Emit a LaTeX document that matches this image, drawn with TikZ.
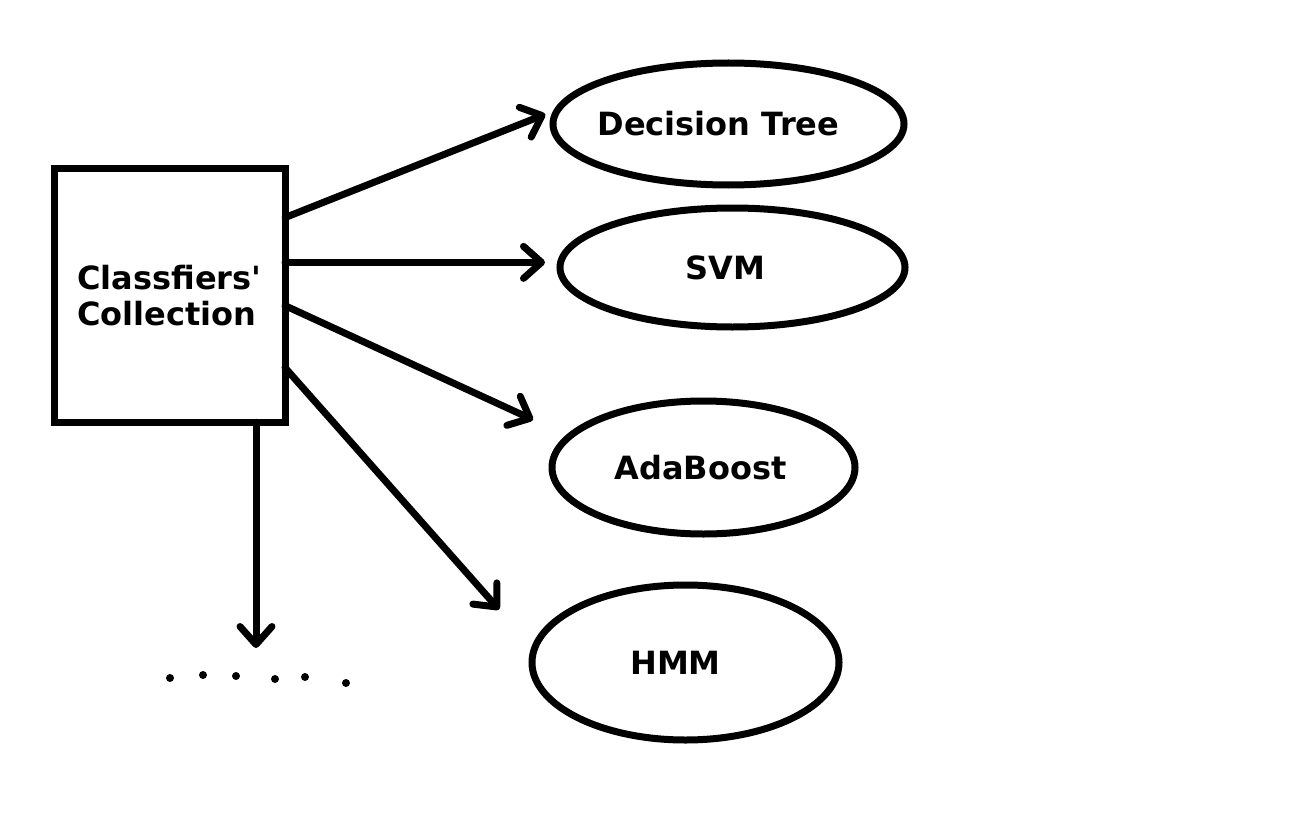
\documentclass[tikz,border=0pt]{standalone}
\usepackage{fontspec}
\setmainfont{DejaVu Sans}
\usetikzlibrary{positioning,shapes.geometric,arrows.meta}

\begin{document}
\begin{tikzpicture}[x=0.5pt,y=-0.5pt]
     \tikzset{clsnode/.style={draw, ellipse, line width=3.5pt, inner sep=0pt, outer sep=0pt}}
     \tikzset{clstext/.style={font=\bfseries\fontsize{16}{18}\selectfont}}
     \tikzset{line/.style={draw, line width=3.5pt, line cap=round, -{Straight Barb[length=9pt,width=16pt,round]}}}
     \useasboundingbox (0,0) rectangle (1290,840);
     \node [draw, clstext, line width=3.5pt, minimum width=115.5pt, minimum height=126.75pt, inner sep=0pt, outer sep=0pt, align=left] (coll) at (169.5,295.5) {Classfiers\textquotesingle\\Collection};

     \node [clsnode, minimum width=175.5pt, minimum height=61pt, label={[clstext, xshift=-5pt]center:Decision Tree}] (dt) at (728.5,124) {};
     \node [clsnode, minimum width=172.5pt, minimum height=59.5pt, below=11.5pt of dt, xshift=2pt, label={[clstext, xshift=-3.5pt]center:SVM}] (svm) {};
     \node [clsnode, minimum width=151.5pt, minimum height=66.5pt, below=37pt of svm, xshift=-14.5pt, label={[clstext, xshift=-1.5pt]center:AdaBoost}] (ada) {};
     \node [clsnode, minimum width=153.5pt, minimum height=77.5pt, below=25.5pt of ada, xshift=-9pt, label={[clstext, xshift=-5pt]center:HMM}] (hmm) {};

     \coordinate (more) at (256,648);

     \path [line, shorten >=7pt] (coll.34.4) -- (dt.175);
     \path [line, shorten >=7.5pt] (coll.16.9) -- (coll.16.9 -| svm.west);
     \path [line, shorten >=20pt] (coll.-5.9) -- (ada.167);
     \path [line, shorten >=26.5pt] (coll.-32.6) -- (hmm.175);
     \path [line] (coll.south -| more) -- (more);

     \foreach \x/\y in {170/678, 203/675, 236/676, 275/679, 305/677, 346/683}
       \fill (\x,\y) circle (2pt);

   \end{tikzpicture}
\end{document}
